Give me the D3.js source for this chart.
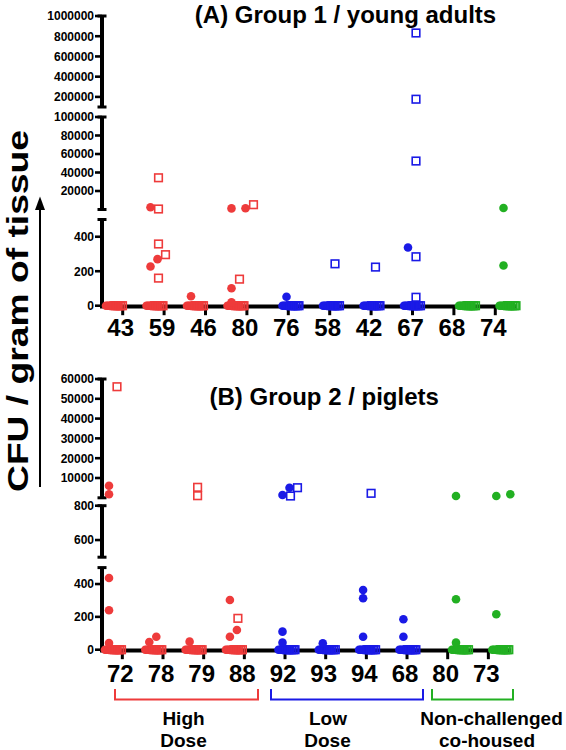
<!DOCTYPE html>
<html><head><meta charset="utf-8">
<script src="https://cdn.jsdelivr.net/npm/d3@7"></script>
<style>
body{margin:0;background:#fff}
text{font-family:"Liberation Sans",Arial,Helvetica,sans-serif;font-weight:bold;fill:#000}
</style>
</head><body>
<svg id="chart" width="566" height="750"></svg>
<script>
// ---------------- DATA ----------------
const groupNames = [["High","Dose"],["Low","Dose"],["Non-challenged","co-housed"]];
const groupColors = ["#EE3B3B","#1A1AE6","#22B022"];

// Panel A : Group 1 / young adults
const animalsA = ["43","59","46","80","76","58","42","67","68","74"];
const groupOfA = [0,0,0,0,1,1,1,1,2,2];
const circlesA = [[],[2500,270,227],[55],[1200,1300,101,20],[52],[],[],[338],[],[1700,233]];
const squaresA = [[],[34300,540,358,296,160],[],[5200,154],[],[243],[224],[832000,177000,52400,284,49],[],[]];
const zeroCirclesA = [9,9,9,9,9,9,9,9,9,9];
const zeroSquaresA = [6,6,6,6,6,6,6,6,6,6];
const segDomainsA = [[0,500],[0,100000],[100000,1000000]];
const segTicksA = [[0,200,400],[20000,40000,60000,80000,100000],[200000,400000,600000,800000,1000000]];

// Panel B : Group 2 / piglets
const animalsB = ["72","78","79","88","92","93","94","68","80","73"];
const groupOfB = [0,0,0,0,1,1,1,1,2,2];
const circlesB = [[6100,1770,437,240,41],[79,47],[49],[303,120,79],[5100,1400,110,43],[39],[364,313,79],[185,79],[900,307,43],[1770,900,216]];
const squaresB = [[56100],[],[5300,1060],[191],[5100,900],[],[2270],[],[],[]];
const zeroCirclesB = [9,9,9,9,9,9,9,9,9,9];
const zeroSquaresB = [6,6,6,6,6,6,6,6,6,6];
const segDomainsB = [[0,500],[500,800],[0,60000]];
const segTicksB = [[0,200,400],[600,800],[10000,20000,30000,40000,50000,60000]];

// ---------------- LAYOUT ----------------
const svg = d3.select("#chart");
const AX = 102;

function panel(cfg){
  const g = svg.append("g");
  const scales = cfg.segRanges.map((r,i)=>d3.scaleLinear().domain(cfg.segDomains[i]).range(r));
  function yOf(v){
    for(let i=0;i<cfg.segDomains.length;i++){
      if(v<=cfg.segDomains[i][1] || i===cfg.segDomains.length-1) return scales[i](v);
    }
  }
  const xTick = d3.scalePoint().domain(cfg.animals).range(cfg.tickRange).padding(0.5);
  const slots = cfg.animals.map((a,i)=>i + cfg.groupOf[i]*cfg.gap);
  const xData = d3.scaleLinear().domain([0, slots[slots.length-1]]).range(cfg.dataRange);

  // y axis segments
  scales.forEach((s,i)=>{
    const [r0,r1] = s.range();
    g.append("line").attr("x1",AX).attr("x2",AX).attr("y1",r0+(i===0?2:0)).attr("y2",r1)
      .attr("stroke","#000").attr("stroke-width",4);
    [r0,r1].forEach((yy,k)=>{
      if(i===0 && k===0) return;
      g.append("line").attr("x1",AX-4.5).attr("x2",AX+4.5).attr("y1",yy).attr("y2",yy)
        .attr("stroke","#000").attr("stroke-width",3);
    });
    cfg.segTicks[i].forEach(t=>{
      const yy = s(t);
      g.append("line").attr("x1",AX-7).attr("x2",AX).attr("y1",yy).attr("y2",yy)
        .attr("stroke","#000").attr("stroke-width",2.6);
      g.append("text").attr("x",AX-8).attr("y",yy).attr("dy","0.36em")
        .attr("text-anchor","end").style("font-size","12px").text(t);
    });
  });

  // x axis
  const y0 = scales[0](0);
  g.append("line").attr("x1",AX-2).attr("x2",cfg.axisEnd).attr("y1",y0+0.8).attr("y2",y0+0.8)
    .attr("stroke","#000").attr("stroke-width",3.8);
  cfg.animals.forEach(a=>{
    const xx = xTick(a);
    g.append("line").attr("x1",xx).attr("x2",xx).attr("y1",y0).attr("y2",y0+9.5)
      .attr("stroke","#000").attr("stroke-width",3);
    g.append("text").attr("x",xx-2).attr("y",cfg.labelY).attr("text-anchor","middle")
      .style("font-size","24px").text(a);
  });

  // points
  const candC=[-4,3,-11,10,-18], candS=[4,11,-3,18,-10];
  cfg.animals.forEach((a,i)=>{
    const cx = xData(slots[i]);
    const col = groupColors[cfg.groupOf[i]];
    const nz = cfg.zeroC[i], ns = cfg.zeroS[i];
    d3.range(nz).forEach(k=>{
      g.append("circle").attr("cx",cx-8+k*12/(nz-1)).attr("cy",y0).attr("r",4.3).attr("fill",col);
    });
    d3.range(ns).forEach(k=>{
      g.append("rect").attr("x",cx+k*8.5/(ns-1)-3.8).attr("y",y0-3.8).attr("width",7.6).attr("height",7.6)
        .attr("fill","none").attr("stroke",col).attr("stroke-width",1.6);
    });
    const pts=[];
    cfg.circles[i].forEach(v=>pts.push({v,shape:"c",y:yOf(v)}));
    cfg.squares[i].forEach(v=>pts.push({v,shape:"s",y:yOf(v)}));
    pts.sort((p,q)=>q.y-p.y);
    const placed=[];
    pts.forEach(p=>{
      const cands = p.shape==="c"?candC:candS;
      p.dx = cands[0];
      for(const dx of cands){
        if(placed.every(q=>Math.hypot(q.dx-dx,q.y-p.y)>=8)){p.dx=dx;break;}
      }
      placed.push(p);
    });
    pts.forEach(p=>{
      if(p.shape==="c"){
        g.append("circle").attr("cx",cx+p.dx).attr("cy",p.y).attr("r",4.3).attr("fill",col);
      } else {
        g.append("rect").attr("x",cx+p.dx-3.8).attr("y",p.y-3.8).attr("width",7.6).attr("height",7.6)
          .attr("fill","none").attr("stroke",col).attr("stroke-width",1.6);
      }
    });
  });

  g.append("text").attr("x",cfg.titleX).attr("y",cfg.titleY).attr("text-anchor","middle")
    .style("font-size","24px").text(cfg.title);
  return {xTick};
}

panel({
  animals:animalsA, groupOf:groupOfA, circles:circlesA, squares:squaresA,
  zeroC:zeroCirclesA, zeroS:zeroSquaresA,
  segDomains:segDomainsA, segTicks:segTicksA,
  segRanges:[[305.7,219.5],[209.5,117],[107,16]],
  tickRange:[102,516], dataRange:[114,507.5], gap:0.358, axisEnd:516,
  labelY:336, title:"(A) Group 1 / young adults", titleX:345.5, titleY:22.5
});

panel({
  animals:animalsB, groupOf:groupOfB, circles:circlesB, squares:squaresB,
  zeroC:zeroCirclesB, zeroS:zeroSquaresB,
  segDomains:segDomainsB, segTicks:segTicksB,
  segRanges:[[649.7,567.6],[557.2,505.7],[497.8,379]],
  tickRange:[102,508.7], dataRange:[113,500.3], gap:0.305, axisEnd:511,
  labelY:682, title:"(B) Group 2 / piglets", titleX:324.2, titleY:405
});

// group brackets
const brackets = [[115,258],[271,423],[432,513]];
const labelCenters = [[183.5,183.5],[328,327.5],[491.5,487]];
brackets.forEach((b,i)=>{
  svg.append("path").attr("d",`M${b[0]},689 V699.5 H${b[1]} V689`)
    .attr("fill","none").attr("stroke",groupColors[i]).attr("stroke-width",2);
  groupNames[i].forEach((t,k)=>{
    svg.append("text").attr("x",labelCenters[i][k]).attr("y",724.5+k*22).attr("text-anchor","middle")
      .style("font-size","19px").text(t);
  });
});

// y-axis title with arrow
svg.append("text").attr("transform","translate(27.5,311) rotate(-90)").attr("text-anchor","middle")
  .attr("textLength",362).attr("lengthAdjust","spacingAndGlyphs")
  .style("font-size","29px").text("CFU / gram of tissue");
svg.append("line").attr("x1",40).attr("x2",40).attr("y1",487).attr("y2",206)
  .attr("stroke","#000").attr("stroke-width",2);
svg.append("path").attr("d","M40,196.5 L35,210 L45,210 Z").attr("fill","#000");
</script>
</body></html>
